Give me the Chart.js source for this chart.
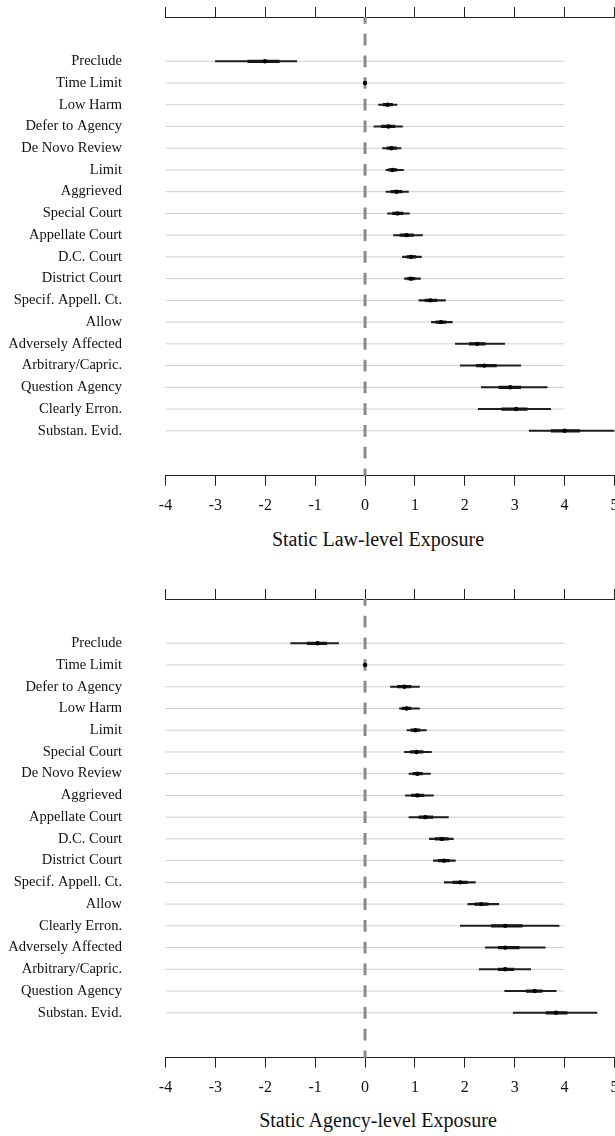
<!DOCTYPE html>
<html>
<head>
<meta charset="utf-8">
<script src="https://cdn.jsdelivr.net/npm/chart.js@4/dist/chart.umd.min.js"></script>
<style>
  html, body { margin: 0; padding: 0; background: #fff; overflow: hidden; width: 615px; height: 1136px; }
  canvas { position: absolute; left: 0; }
  #lawChart { top: 0; }
  #agencyChart { top: 582px; }
  .axis-title {
    position: absolute; left: 0; width: 756px; text-align: center;
    font-family: "Liberation Serif", "Times New Roman", serif; font-size: 20px; line-height: 20px; color: #111;
  }
</style>
</head>
<body>
<canvas id="lawChart" width="640" height="520"></canvas>
<div class="axis-title" style="top:529px">Static Law-level Exposure</div>
<canvas id="agencyChart" width="640" height="520"></canvas>
<div class="axis-title" style="top:1110px">Static Agency-level Exposure</div>

<script>
// x axis ticks (shared by both panels)
const xTicks = [-4, -3, -2, -1, 0, 1, 2, 3, 4, 5];

// Law-level panel
const lawLabels = ['Preclude', 'Time Limit', 'Low Harm', 'Defer to Agency', 'De Novo Review', 'Limit',
  'Aggrieved', 'Special Court', 'Appellate Court', 'D.C. Court', 'District Court', 'Specif. Appell. Ct.',
  'Allow', 'Adversely Affected', 'Arbitrary/Capric.', 'Question Agency', 'Clearly Erron.', 'Substan. Evid.'];
const lawEst  = [-2.01, 0.00, 0.45, 0.47, 0.53, 0.55, 0.63, 0.65, 0.83, 0.92, 0.92, 1.31, 1.52, 2.25, 2.39, 2.91, 3.03, 4.00];
const lawLo95 = [-3.00, -0.03, 0.27, 0.18, 0.35, 0.42, 0.42, 0.45, 0.57, 0.75, 0.79, 1.08, 1.33, 1.81, 1.91, 2.33, 2.27, 3.29];
const lawHi95 = [-1.37, 0.03, 0.64, 0.75, 0.72, 0.77, 0.87, 0.89, 1.15, 1.13, 1.11, 1.61, 1.75, 2.80, 3.12, 3.65, 3.72, 5.00];
const lawLo50 = [-2.35, -0.015, 0.36, 0.33, 0.44, 0.47, 0.52, 0.55, 0.70, 0.84, 0.85, 1.20, 1.42, 2.09, 2.23, 2.68, 2.74, 3.73];
const lawHi50 = [-1.72, 0.015, 0.55, 0.60, 0.63, 0.64, 0.74, 0.76, 0.97, 1.02, 1.00, 1.44, 1.62, 2.41, 2.63, 3.12, 3.25, 4.30];

// Agency-level panel
const agencyLabels = ['Preclude', 'Time Limit', 'Defer to Agency', 'Low Harm', 'Limit', 'Special Court',
  'De Novo Review', 'Aggrieved', 'Appellate Court', 'D.C. Court', 'District Court', 'Specif. Appell. Ct.',
  'Allow', 'Clearly Erron.', 'Adversely Affected', 'Arbitrary/Capric.', 'Question Agency', 'Substan. Evid.'];
const agencyEst  = [-0.95, 0.00, 0.79, 0.83, 1.01, 1.03, 1.05, 1.05, 1.21, 1.54, 1.58, 1.91, 2.33, 2.81, 2.81, 2.81, 3.40, 3.83];
const agencyLo95 = [-1.49, -0.02, 0.51, 0.69, 0.84, 0.79, 0.88, 0.81, 0.88, 1.29, 1.37, 1.59, 2.06, 1.91, 2.41, 2.29, 2.80, 2.97];
const agencyHi95 = [-0.53, 0.03, 1.09, 1.09, 1.23, 1.33, 1.31, 1.37, 1.67, 1.77, 1.81, 2.21, 2.68, 3.89, 3.61, 3.32, 3.83, 4.65];
const agencyLo50 = [-1.16, -0.01, 0.65, 0.74, 0.92, 0.91, 0.96, 0.93, 1.08, 1.41, 1.47, 1.76, 2.20, 2.53, 2.67, 2.67, 3.23, 3.63];
const agencyHi50 = [-0.77, 0.015, 0.92, 0.92, 1.10, 1.16, 1.15, 1.18, 1.36, 1.67, 1.69, 2.05, 2.47, 3.15, 3.09, 2.98, 3.55, 4.05];

Chart.defaults.font.family = '"Liberation Serif", "Times New Roman", serif';
Chart.defaults.color = '#111';

// grey row lines (from -4 to 4) and the dashed zero line
const guidePlugin = {
  id: 'guides',
  beforeDatasetsDraw(chart) {
    const { ctx, chartArea } = chart;
    const xs = chart.scales.x, ys = chart.scales.y;
    const n = chart.data.labels.length;
    ctx.save();
    ctx.strokeStyle = '#cfcfcf';
    ctx.lineWidth = 1;
    for (let i = 0; i < n; i++) {
      const y = ys.getPixelForValue(i);
      ctx.beginPath();
      ctx.moveTo(xs.getPixelForValue(-4), y);
      ctx.lineTo(xs.getPixelForValue(4), y);
      ctx.stroke();
    }
    // dashed line at zero, dashes centred on rows
    const step = ys.getPixelForValue(1) - ys.getPixelForValue(0);
    const dash = step * 0.54;
    const x0 = xs.getPixelForValue(0);
    ctx.beginPath();
    ctx.rect(chartArea.left, chartArea.top, chartArea.right - chartArea.left, chartArea.bottom - chartArea.top);
    ctx.clip();
    ctx.strokeStyle = '#8a8a8a';
    ctx.lineWidth = 3;
    ctx.setLineDash([dash, step - dash]);
    ctx.beginPath();
    ctx.moveTo(x0, ys.getPixelForValue(-2) - dash / 2);
    ctx.lineTo(x0, chartArea.bottom + 1);
    ctx.stroke();
    ctx.restore();
  }
};

function makeChart(id, labels, est, lo95, hi95, lo50, hi50) {
  const ctx = document.getElementById(id);
  return new Chart(ctx, {
    type: 'bar',
    data: {
      labels: labels,
      datasets: [
        {
          label: '95%',
          data: lo95.map((lo, i) => ({ x: [lo, hi95[i]], y: i })),
          backgroundColor: '#1e1e1e',
          barThickness: 1.4,
          grouped: false,
          order: 3
        },
        {
          label: '50%',
          data: lo50.map((lo, i) => ({ x: [lo, hi50[i]], y: i })),
          backgroundColor: '#161616',
          barThickness: 2.6,
          grouped: false,
          order: 2
        },
        {
          type: 'scatter',
          label: 'estimate',
          data: est.map((v, i) => ({ x: v, y: i })),
          backgroundColor: '#000',
          borderWidth: 0,
          pointRadius: 2.2,
          pointHoverRadius: 2.2,
          order: 1
        }
      ]
    },
    options: {
      indexAxis: 'y',
      responsive: false,
      animation: false,
      events: [],
      layout: { padding: { top: 0, right: 25.5, left: 0, bottom: 0 } },
      plugins: { legend: { display: false }, tooltip: { enabled: false } },
      scales: {
        x: {
          type: 'linear',
          position: 'bottom',
          min: xTicks[0],
          max: xTicks[xTicks.length - 1],
          afterBuildTicks: (axis) => { axis.ticks = xTicks.map(v => ({ value: v })); },
          ticks: { font: { size: 16 }, color: '#111', padding: 10, callback: v => String(v) },
          grid: { drawOnChartArea: false, drawTicks: true, tickLength: 10, color: '#222', lineWidth: 1 },
          border: { display: true, color: '#222', width: 1 },
          afterFit: (s) => { s.height = 520 - 475.7; }
        },
        x2: {
          type: 'linear',
          position: 'top',
          min: xTicks[0],
          max: xTicks[xTicks.length - 1],
          afterBuildTicks: (axis) => { axis.ticks = xTicks.map(v => ({ value: v })); },
          ticks: { display: false },
          grid: { drawOnChartArea: false, drawTicks: true, tickLength: 10, color: '#222', lineWidth: 1 },
          border: { display: true, color: '#222', width: 1 },
          afterFit: (s) => { s.height = 17; }
        },
        y: {
          type: 'linear',
          reverse: true,
          min: -1.45,
          max: labels.length - 1 + 1.48,
          afterBuildTicks: (axis) => { axis.ticks = labels.map((_, i) => ({ value: i })); },
          ticks: { font: { size: 14.5 }, color: '#111', padding: 43.5, callback: v => labels[v] },
          grid: { display: false, drawTicks: false },
          border: { display: false },
          afterFit: (s) => { s.width = 165.5; s.paddingTop = 0; s.paddingBottom = 0; }
        }
      }
    },
    plugins: [guidePlugin]
  });
}

makeChart('lawChart', lawLabels, lawEst, lawLo95, lawHi95, lawLo50, lawHi50);
makeChart('agencyChart', agencyLabels, agencyEst, agencyLo95, agencyHi95, agencyLo50, agencyHi50);
</script>
</body>
</html>
